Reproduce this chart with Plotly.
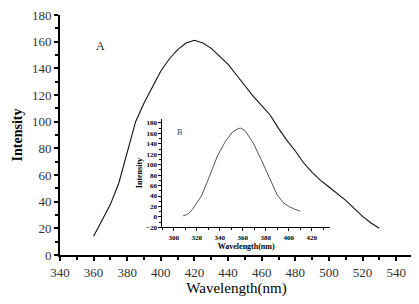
import plotly.graph_objects as go

# Main spectrum (A)
main_wl = [360, 365, 370, 375, 380, 385, 390, 395, 400, 405, 410, 415, 420, 425, 430,
           435, 440, 445, 450, 455, 460, 465, 470, 475, 480, 485, 490, 495, 500, 505,
           510, 515, 520, 525, 530]
main_int = [14, 26, 38, 54, 76, 100, 114, 126, 138, 147, 154, 159, 161, 159, 155,
            149, 143, 135, 127, 119, 112, 105, 95, 86, 78, 69, 62, 56, 51, 46,
            41, 35, 29, 24, 20]

# Inset spectrum (B)
inset_wl = [308, 312, 316, 320, 324, 330, 338, 345, 351, 356, 358, 362, 369, 376,
            383, 390, 395, 400, 405, 410]
inset_int = [2, 5, 14, 26, 40, 72, 117, 145, 162, 169, 170, 165, 142, 110,
             75, 42, 28, 20, 15, 11]

main_xticks = list(range(340, 541, 20))
main_yticks = list(range(0, 181, 20))
inset_xticks = list(range(300, 421, 20))
inset_yticks = list(range(-20, 181, 20))

serif = "Liberation Serif, Times New Roman, serif"

fig = go.Figure()
fig.add_trace(go.Scatter(x=main_wl, y=main_int, mode="lines",
                         line=dict(color="#111111", width=1.1),
                         xaxis="x", yaxis="y", showlegend=False))
fig.add_trace(go.Scatter(x=inset_wl, y=inset_int, mode="lines",
                         line=dict(color="#555555", width=1),
                         xaxis="x2", yaxis="y2", showlegend=False))

fig.update_layout(
    width=411, height=296,
    margin=dict(l=52, r=6, t=7, b=49, autoexpand=False),
    paper_bgcolor="white", plot_bgcolor="rgba(0,0,0,0)",
    font=dict(family=serif, color="black"),
    xaxis=dict(range=[340, 550], tickvals=main_xticks, showgrid=False, zeroline=False,
               automargin=False, ticklabeloverflow="allow",
               showline=True, linecolor="black", linewidth=2,
               ticks="outside", ticklen=4, tickwidth=2, tickcolor="black",
               minor=dict(dtick=10, tick0=340, ticks="outside", ticklen=3, tickwidth=1.5, tickcolor="black"),
               tickfont=dict(family=serif, size=13, color="#333"),
               title=dict(text="Wavelength(nm)", font=dict(family=serif, size=15, color="black"), standoff=4)),
    yaxis=dict(range=[0, 180], tickvals=main_yticks, showgrid=False, zeroline=False,
               automargin=False, ticklabeloverflow="allow",
               showline=True, linecolor="black", linewidth=2,
               ticks="outside", ticklen=4, tickwidth=2, tickcolor="black",
               minor=dict(dtick=10, tick0=0, ticks="outside", ticklen=3, tickwidth=1.5, tickcolor="black"),
               tickfont=dict(family=serif, size=13, color="#333"),
               title=dict(text="<b>Intensity</b>", font=dict(family=serif, size=14, color="black"), standoff=6)),
    xaxis2=dict(domain=[0.29, 0.765], anchor="y2", range=[290, 436], tickvals=inset_xticks,
                automargin=False, ticklabeloverflow="allow",
                showgrid=False, zeroline=False, showline=True, linecolor="black", linewidth=1,
                ticks="outside", ticklen=3, tickwidth=1, tickcolor="black",
                minor=dict(dtick=10, tick0=290, ticks="outside", ticklen=2, tickwidth=1, tickcolor="black"),
                tickfont=dict(family=serif, size=7, color="black", weight="bold"),
                title=dict(text="<b>Wavelength(nm)</b>", font=dict(family=serif, size=8, color="black"), standoff=2)),
    yaxis2=dict(domain=[0.115, 0.568], anchor="x2", range=[-20, 188], tickvals=inset_yticks,
                automargin=False, ticklabeloverflow="allow",
                showgrid=False, zeroline=False, showline=True, linecolor="black", linewidth=1,
                ticks="outside", ticklen=3, tickwidth=1, tickcolor="black",
                minor=dict(dtick=10, tick0=-20, ticks="outside", ticklen=2, tickwidth=1, tickcolor="black"),
                tickfont=dict(family=serif, size=7, color="black", weight="bold"),
                title=dict(text="<b>Intensity</b>", font=dict(family=serif, size=8, color="black"), standoff=2)),
    annotations=[
        dict(text="A", x=364, y=157, xref="x", yref="y", showarrow=False,
             font=dict(family=serif, size=12, color="#222")),
        dict(text="B", x=305, y=162, xref="x2", yref="y2", showarrow=False,
             font=dict(family=serif, size=8, color="#444")),
    ],
)

fig.write_html("out.html")
